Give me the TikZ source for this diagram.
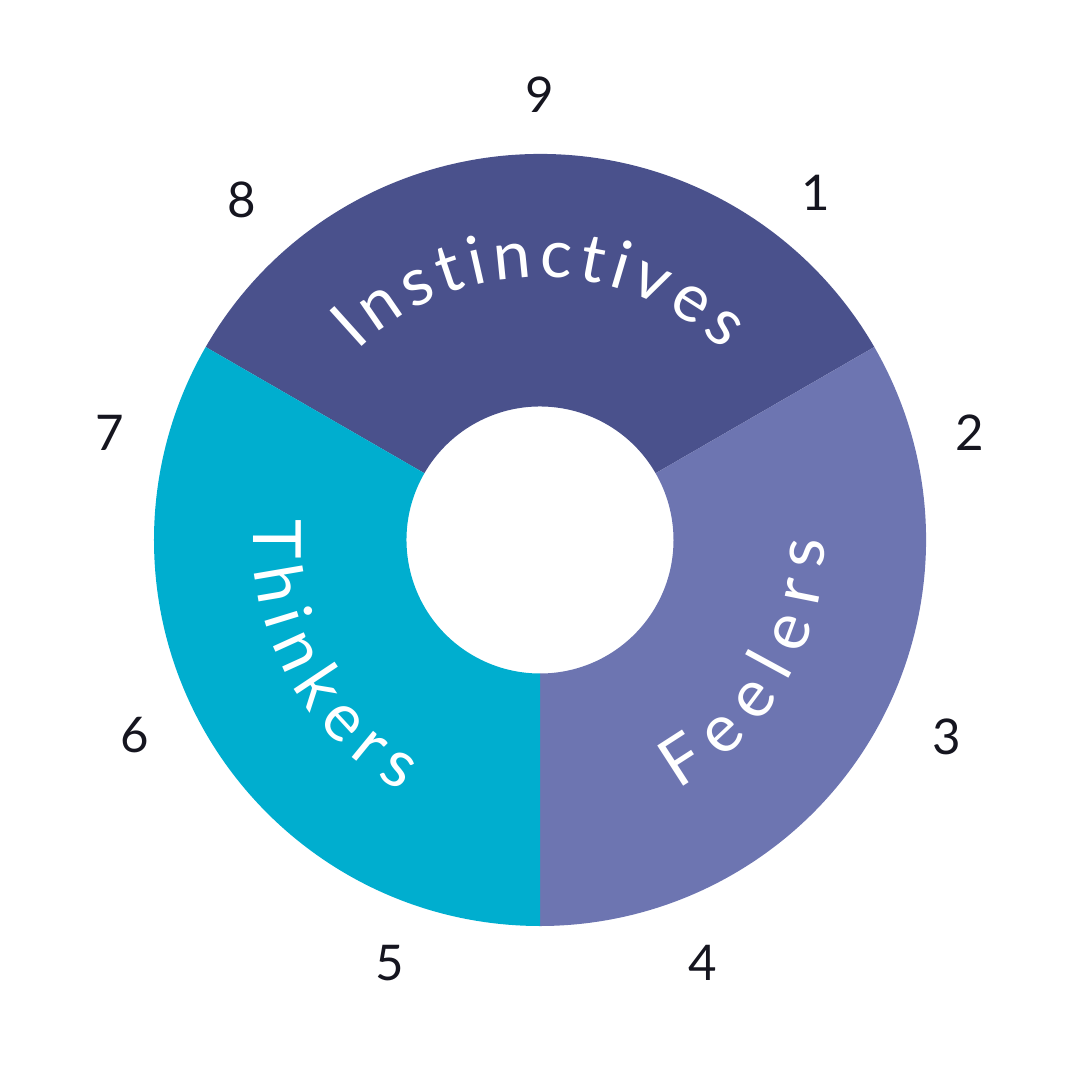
\documentclass[tikz,border=0pt]{standalone}
\usepackage{fontspec}
\setmainfont{Lato}
\usetikzlibrary{decorations.text}
\definecolor{instinct}{HTML}{4A518C}
\definecolor{feel}{HTML}{6D75B1}
\definecolor{think}{HTML}{00AECF}
\definecolor{digit}{HTML}{15151F}
\newcommand{\ringfont}{\fontsize{14}{16}\selectfont}
\newcommand{\arcfont}{\fontsize{19}{21}\selectfont}

\begin{document}
\begin{tikzpicture}[
    number/.style={text=digit, font=\ringfont},
    arclabel/.style={decorate, decoration={text along path, text={|\arcfont|#1}, text color=white, text align={fit to path}}}]
  \useasboundingbox (-5.4, -5.4) rectangle (5.4, 5.4);
  \fill[instinct] (150:3.86) arc (150:30:3.86) -- (30:1.335) arc (30:150:1.335) -- cycle;
  \fill[feel] (30:3.86) arc (30:-90:3.86) -- (-90:1.335) arc (-90:30:1.335) -- cycle;
  \fill[think] (-90:3.86) arc (-90:-210:3.86) -- (150:1.335) arc (150:270:1.335) -- cycle;
  \path[arclabel=Instinctives] (134:2.63) arc (134:46:2.63);
  \path[arclabel=Feelers] (-61:2.85) arc (-61:0:2.85);
  \path[arclabel=Thinkers] (176:2.87) arc (176:241:2.87);
  \foreach \n/\x/\y in {9/0/4.45, 1/2.76/3.47, 2/4.30/1.07, 3/4.07/-1.97, 4/1.63/-4.23, 5/-1.50/-4.23, 6/-4.05/-1.95, 7/-4.30/1.07, 8/-2.98/3.40}
    \node[number] (n\n) at (\x, \y) {\n};
\end{tikzpicture}
\end{document}
